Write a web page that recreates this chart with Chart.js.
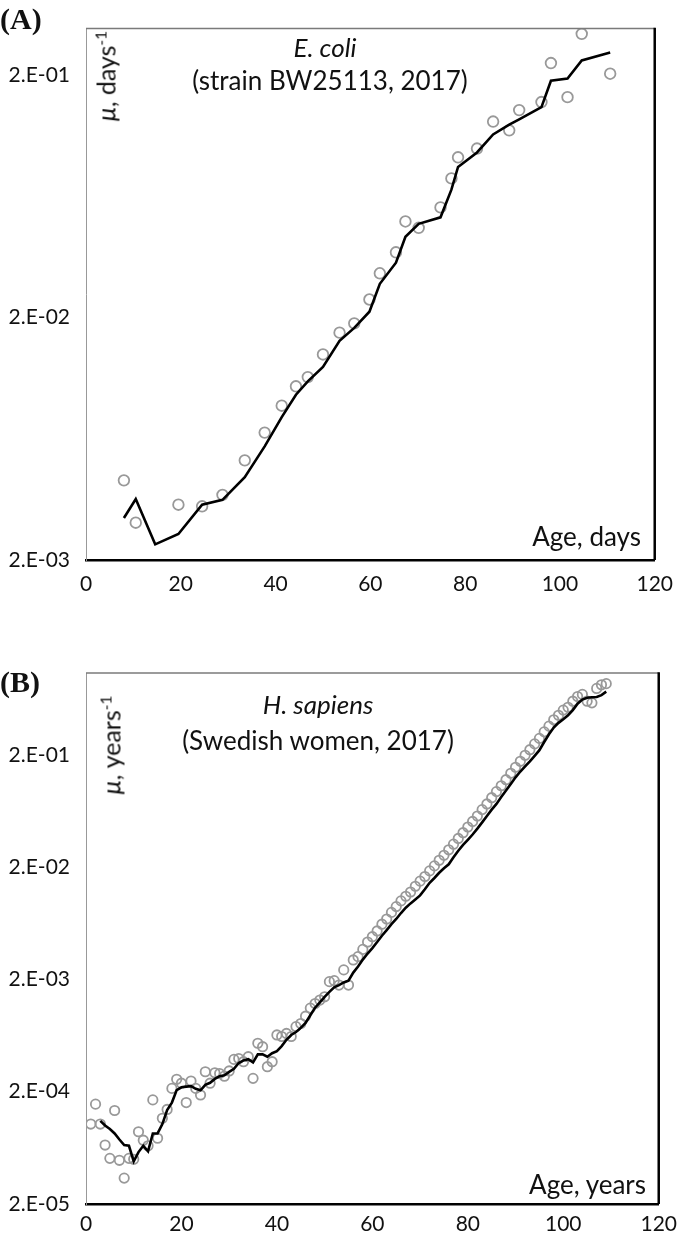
<!DOCTYPE html>
<html>
<head>
<meta charset="utf-8">
<script src="https://cdn.jsdelivr.net/npm/chart.js@4"></script>
<style>
  body { margin: 0; background: #fff; }
  #page { position: relative; width: 685px; height: 1235px; overflow: hidden; font-family: Lato, sans-serif; color: #111; }
  canvas { position: absolute; left: 0; }
  .lbl { position: absolute; white-space: nowrap; transform: translate(-50%, -50%); line-height: 1; }
  .panel { font-family: "Liberation Serif", serif; font-weight: bold; font-size: 30px; transform: translate(0, -50%); }
  .right { transform: translate(-100%, -50%); }
  .rot { transform: translate(-50%, -50%) rotate(-90deg); }
  sup { font-size: 0.62em; vertical-align: 0.6em; line-height: 0; }
</style>
</head>
<body>
<div id="page">
  <canvas id="chartA" width="685" height="610" style="top:0"></canvas>
  <canvas id="chartB" width="685" height="620" style="top:615px"></canvas>

  <div class="lbl panel" style="left:0; top:19px">(A)</div>
  <div class="lbl" style="left:325px; top:47px; font-size:26px"><i>E. coli</i></div>
  <div class="lbl" style="left:330px; top:80px; font-size:26px">(strain BW25113, 2017)</div>
  <div class="lbl rot" style="left:106px; top:76px; font-size:25px"><i>μ</i>, days<sup>-1</sup></div>
  <div class="lbl right" style="left:641px; top:536px; font-size:26px">Age, days</div>

  <div class="lbl panel" style="left:0; top:682px">(B)</div>
  <div class="lbl" style="left:318px; top:704px; font-size:26px"><i>H. sapiens</i></div>
  <div class="lbl" style="left:318px; top:740px; font-size:26px">(Swedish women, 2017)</div>
  <div class="lbl rot" style="left:111px; top:745px; font-size:25px"><i>μ</i>, years<sup>-1</sup></div>
  <div class="lbl right" style="left:646px; top:1184px; font-size:26px">Age, years</div>
</div>
<script>
// (A) E. coli, mortality per day
const ageA = [8, 10.5, 14.6, 19.5, 24.5, 28.8, 33.5, 37.7, 41.3, 44.3,
  46.8, 50, 53.5, 56.6, 59.8, 62, 65.4, 67.4, 70.2, 74.8,
  77.1, 78.5, 82.5, 85.9, 89.3, 91.4, 96.1, 98.1, 101.6, 104.6, 110.6];
const muA = [0.00426, 0.00285, null, 0.00338, 0.00333, 0.00371, 0.00515, 0.0067, 0.00865, 0.0104,
  0.01135, 0.01407, 0.0173, 0.0189, 0.0237, 0.0304, 0.0371, 0.0497, 0.0468, 0.0568,
  0.0748, 0.0914, 0.0993, 0.1283, 0.118, 0.143, 0.1544, 0.2235, 0.1617, 0.295, 0.202];
const smoothA = [0.00298, 0.00357, 0.00232, 0.00256, 0.00338, 0.00354, 0.00439, 0.00588, 0.00776, 0.0096,
  0.0109, 0.0125, 0.016, 0.0181, 0.0211, 0.0275, 0.0336, 0.043, 0.0486, 0.0517,
  0.0672, 0.0834, 0.0957, 0.1135, 0.1245, 0.131, 0.147, 0.189, 0.193, 0.229, 0.247];
const yTicksA = [0.002, 0.02, 0.2];

// (B) Swedish women 2017, mortality per year
const ageB = [1, 2, 3, 4, 5, 6, 7, 8, 9, 10,
  11, 12, 13, 14, 15, 16, 17, 18, 19, 20,
  21, 22, 23, 24, 25, 26, 27, 28, 29, 30,
  31, 32, 33, 34, 35, 36, 37, 38, 39, 40,
  41, 42, 43, 44, 45, 46, 47, 48, 49, 50,
  51, 52, 53, 54, 55, 56, 57, 58, 59, 60,
  61, 62, 63, 64, 65, 66, 67, 68, 69, 70,
  71, 72, 73, 74, 75, 76, 77, 78, 79, 80,
  81, 82, 83, 84, 85, 86, 87, 88, 89, 90,
  91, 92, 93, 94, 95, 96, 97, 98, 99, 100,
  101, 102, 103, 104, 105, 106, 107, 108, 109];
const muB = [1.03e-4, 1.55e-4, 1.03e-4, 6.7e-5, 5.1e-5, 1.36e-4, 4.9e-5, 3.4e-5, 5.1e-5, 5.0e-5,
  8.8e-5, 7.4e-5, 6.6e-5, 1.69e-4, 7.7e-5, 1.16e-4, 1.39e-4, 2.14e-4, 2.58e-4, 2.38e-4,
  1.6e-4, 2.49e-4, 2.14e-4, 1.87e-4, 3.01e-4, 2.38e-4, 2.95e-4, 2.9e-4, 2.75e-4, 3.06e-4,
  3.88e-4, 3.95e-4, 3.7e-4, 4.1e-4, 2.63e-4, 5.4e-4, 5.03e-4, 3.34e-4, 3.7e-4, 6.4e-4,
  6.2e-4, 6.6e-4, 6.2e-4, 7.6e-4, 8.1e-4, 9.4e-4, 1.11e-3, 1.22e-3, 1.31e-3, 1.4e-3,
  1.91e-3, 1.95e-3, 1.78e-3, 2.43e-3, 1.78e-3, 2.98e-3, 3.19e-3, 3.7e-3, 4.3e-3, 4.8e-3,
  5.4e-3, 6.2e-3, 6.9e-3, 7.9e-3, 8.9e-3, 1.0e-2, 1.1e-2, 1.2e-2, 1.35e-2, 1.5e-2,
  1.65e-2, 1.85e-2, 2.05e-2, 2.3e-2, 2.55e-2, 2.85e-2, 3.2e-2, 3.6e-2, 4.05e-2, 4.55e-2,
  5.1e-2, 5.7e-2, 6.5e-2, 7.3e-2, 8.3e-2, 9.4e-2, 0.106, 0.12, 0.137, 0.155,
  0.175, 0.198, 0.222, 0.25, 0.28, 0.32, 0.36, 0.41, 0.45, 0.5,
  0.53, 0.6, 0.66, 0.69, 0.6, 0.58, 0.78, 0.84, 0.86];
const smoothB = [null, null, 1.10e-4, 1.0e-4, 9.3e-5, 8.5e-5, 7.5e-5, 6.7e-5, 6.6e-5, 4.8e-5,
  5.8e-5, 6.6e-5, 5.9e-5, 8.5e-5, 8.5e-5, 1.03e-4, 1.37e-4, 1.6e-4, 2.07e-4, 2.19e-4,
  2.22e-4, 2.24e-4, 2.12e-4, 2.06e-4, 2.3e-4, 2.4e-4, 2.6e-4, 2.75e-4, 2.8e-4, 3.0e-4,
  3.2e-4, 3.6e-4, 3.8e-4, 3.9e-4, 3.65e-4, 4.3e-4, 4.3e-4, 4.1e-4, 4.4e-4, 4.6e-4,
  5.1e-4, 5.8e-4, 6.4e-4, 6.8e-4, 7.4e-4, 8.2e-4, 9.6e-4, 1.12e-3, 1.25e-3, 1.4e-3,
  1.55e-3, 1.7e-3, 1.78e-3, 1.88e-3, 1.95e-3, 2.3e-3, 2.6e-3, 3.0e-3, 3.4e-3, 3.8e-3,
  4.3e-3, 4.9e-3, 5.5e-3, 6.2e-3, 6.9e-3, 7.8e-3, 8.7e-3, 9.5e-3, 1.03e-2, 1.12e-2,
  1.27e-2, 1.45e-2, 1.6e-2, 1.78e-2, 1.95e-2, 2.12e-2, 2.45e-2, 2.8e-2, 3.15e-2, 3.5e-2,
  3.9e-2, 4.4e-2, 5.0e-2, 5.7e-2, 6.5e-2, 7.3e-2, 8.4e-2, 9.6e-2, 0.11, 0.126,
  0.142, 0.158, 0.175, 0.196, 0.22, 0.26, 0.305, 0.35, 0.385, 0.415,
  0.45, 0.5, 0.57, 0.62, 0.645, 0.65, 0.655, 0.68, 0.73];
const yTicksB = [2e-5, 2e-4, 2e-3, 2e-2, 2e-1];

const xTickStep = 20;

// Excel style "2.E-03"
const fmtSci = (v) => {
    const exp = Math.floor(Math.log10(v) + 1e-9);
    const mant = Math.round(v / Math.pow(10, exp));
    const sign = exp < 0 ? '-' : '+';
    return `${mant}.E${sign}${String(Math.abs(exp)).padStart(2, '0')}`;
};

const toPoints = (xs, ys) => xs.map((x, i) => ({ x, y: ys[i] })).filter(p => p.y != null);

// top and right edges of the plot frame
const framePlugin = {
    id: 'frame',
    afterDraw(chart) {
        const { ctx, chartArea: a } = chart;
        ctx.save();
        ctx.strokeStyle = '#7a7a7a';
        ctx.lineWidth = 1.5;
        ctx.beginPath();
        ctx.moveTo(a.left, a.top);
        ctx.lineTo(a.right, a.top);
        ctx.stroke();
        ctx.strokeStyle = '#000';
        ctx.lineWidth = 2.5;
        ctx.beginPath();
        ctx.moveTo(a.right, a.top - 0.75);
        ctx.lineTo(a.right, a.bottom);
        ctx.stroke();
        ctx.restore();
    }
};

const makeChart = (id, cfg) => {
    new Chart(document.getElementById(id), {
        type: 'scatter',
        data: {
            datasets: [{
                data: toPoints(cfg.x, cfg.smooth),
                showLine: true,
                borderColor: '#000',
                borderWidth: 2.6,
                pointRadius: 0,
                tension: 0
            }, {
                data: toPoints(cfg.x, cfg.mu),
                showLine: false,
                pointRadius: cfg.r,
                pointBorderWidth: 1.8,
                pointBorderColor: '#999',
                pointBackgroundColor: 'rgba(0,0,0,0)'
            }]
        },
        options: {
            responsive: false,
            animation: false,
            devicePixelRatio: 1,
            layout: { padding: { top: cfg.top, right: 20, left: 0, bottom: 0 } },
            plugins: { legend: { display: false }, tooltip: { enabled: false } },
            scales: {
                x: {
                    type: 'linear',
                    min: 0,
                    max: 120,
                    grid: { display: false, drawTicks: false },
                    border: { color: '#000', width: 2.5 },
                    ticks: { stepSize: xTickStep, padding: cfg.xPad, color: '#111', font: { family: 'Lato', size: 21 } },
                    afterFit: (s) => { s.height = cfg.xh; }
                },
                y: {
                    type: 'logarithmic',
                    min: cfg.min,
                    max: cfg.max,
                    grid: { display: false, drawTicks: false },
                    border: { color: '#999', width: 1 },
                    ticks: { padding: 16, color: '#111', font: { family: 'Lato', size: 21 }, callback: (v) => fmtSci(v) },
                    afterBuildTicks: (s) => { s.ticks = cfg.ticks.map(v => ({ value: v })); },
                    afterFit: (s) => { s.width = 86; }
                }
            }
        },
        plugins: [framePlugin]
    });
};

makeChart('chartA', { x: ageA, mu: muA, smooth: smoothA, ticks: yTicksA, min: 0.002, max: 0.31, top: 14, xh: 50, xPad: 12, r: 5.3 });
makeChart('chartB', { x: ageB, mu: muB, smooth: smoothB, ticks: yTicksB, min: 2e-5, max: 1.07, top: 58, xh: 31, xPad: 8, r: 4.7 });
</script>
</body>
</html>
